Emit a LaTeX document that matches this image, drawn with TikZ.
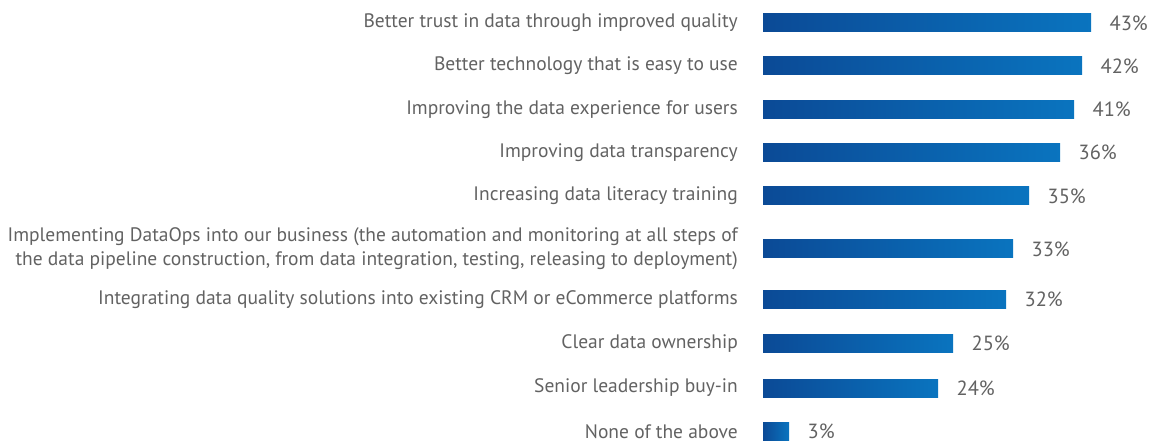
\documentclass[tikz,border=0pt]{standalone}
\usepackage{fontspec}
\setmainfont{PT Sans}
\usetikzlibrary{positioning}
\definecolor{bardark}{HTML}{0B4A96}
\definecolor{barlight}{HTML}{0A74BF}
\definecolor{textgray}{HTML}{626262}

\begin{document}
\begin{tikzpicture}[x=1pt,y=-1pt,
    item/.style={anchor=east, inner sep=0pt, text=textgray, align=right,
      font=\fontsize{19.5}{24}\selectfont},
    bar/.style={anchor=west, inner sep=0pt, minimum height=18pt,
      left color=bardark, right color=barlight},
    pct/.style={inner sep=0pt, text=textgray, font=\fontsize{20.5}{24}\selectfont}]
    \useasboundingbox (0,0) rectangle (1153,443);
    \foreach \i/\y/\w/\p/\t in {
        1/23/328/43/{Better trust in data through improved quality},
        2/66/319/42/{Better technology that is easy to use},
        3/109.5/311/41/{Improving the data experience for users},
        4/152.5/297/36/{Improving data transparency},
        5/196/266/35/{Increasing data literacy training},
        6/249/250/33/{Implementing DataOps into our business (the automation and monitoring at all steps of\\the data pipeline construction, from data integration, testing, releasing to deployment)},
        7/299.5/243/32/{Integrating data quality solutions into existing CRM or eCommerce platforms},
        8/343.5/190/25/{Clear data ownership},
        9/388/175/24/{Senior leadership buy-in},
        10/431.5/26/3/{None of the above}}{
        \node [item] (item\i) at (738,\y) {\t};
        \node [bar, minimum width=\w pt] (bar\i) at (763,\y) {};
        \node [pct, right=18pt of bar\i] (pct\i) {\p\%};
    }
\end{tikzpicture}
\end{document}
